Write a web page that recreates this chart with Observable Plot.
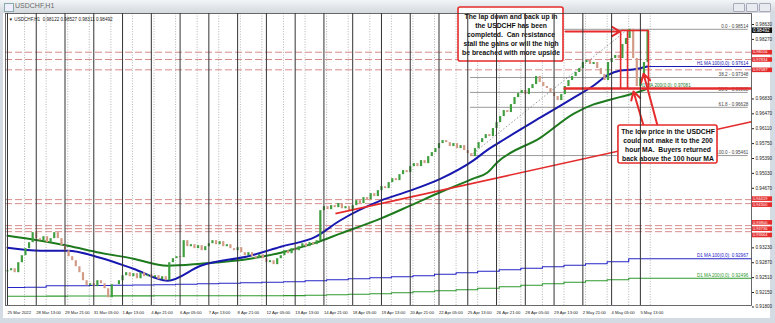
<!DOCTYPE html>
<html><head><meta charset="utf-8">
<script src="https://cdn.jsdelivr.net/npm/d3@7"></script>
<script src="https://cdn.jsdelivr.net/npm/@observablehq/plot@0.6"></script>
<style>
body{margin:0;background:#fff;}
#wrap{position:relative;width:775px;height:323px;background:#d5dbe2;overflow:hidden;font-family:"Liberation Sans",Arial,sans-serif;}
#titlebar{position:absolute;left:0;top:0;width:775px;height:13px;background:linear-gradient(#f3f5f7,#d3d9df);}
#title{position:absolute;left:15px;top:2px;font-size:7px;color:#6a6a6a;}
#icon{position:absolute;left:4px;top:3px;width:8px;height:7px;border:1px solid #8aa;background:#eef;}
.btn{position:absolute;top:3px;width:10px;height:7px;border:1px solid #aab;background:#e8ecf0;border-radius:1px;}
#panel{position:absolute;left:3px;top:13px;width:767px;height:305px;background:#fff;}
#chart{position:absolute;left:0;top:0;}
</style></head><body>
<div id="wrap">
<div id="titlebar"><div id="icon"></div><span id="title">USDCHF,H1</span>
<div class="btn" style="left:733px"></div><div class="btn" style="left:746px"></div><div class="btn" style="left:759px"></div></div>
<div id="panel"></div>
<div id="chart"></div>
</div>
<script>
// ---------- data ----------
const timeBars = [0,32,64,96,128,160,192,224,256,288,320,352,384,416,448,480,512,544,576,608,640,672,704];
const timeLabels = ["25 Mar 2022","28 Mar 13:00","29 Mar 21:00","31 Mar 05:00","1 Apr 13:00","4 Apr 21:00","6 Apr 05:00","7 Apr 13:00","8 Apr 21:00","12 Apr 05:00","13 Apr 13:00","14 Apr 21:00","18 Apr 05:00","19 Apr 13:00","20 Apr 21:00","22 Apr 05:00","25 Apr 13:00","26 Apr 21:00","28 Apr 05:00","29 Apr 13:00","2 May 21:00","4 May 05:00","5 May 13:00"];
const priceTicks = [0.98630,0.98270,0.96830,0.96470,0.96110,0.95750,0.95390,0.95030,0.94670,0.93230,0.92870,0.92510,0.92150,0.91800];

// price closes, one every 4 hourly bars
const firstOpen = 0.92650;
const closes = [
0.92677,0.92725,0.92629,0.92871,0.93040,0.93210,0.93355,0.93597,0.93452,0.93403,
0.93500,0.93355,0.93452,0.93597,0.93452,0.93282,0.93161,0.93016,0.92919,0.92774,
0.92629,0.92435,0.92314,0.92362,0.92290,0.92435,0.92362,0.92241,0.92023,0.92338,
0.92338,0.92435,0.92556,0.92629,0.92532,0.92605,0.92483,0.92629,0.92532,0.92580,
0.92508,0.92556,0.92459,0.92532,0.92435,0.92871,0.92968,0.93016,0.92992,0.93403,
0.93258,0.93306,0.93210,0.93282,0.93161,0.93258,0.93330,0.93403,0.93306,0.93379,
0.93258,0.93306,0.93210,0.93161,0.93234,0.93113,0.93040,0.93113,0.93016,0.92968,
0.93065,0.92968,0.92871,0.92919,0.92823,0.92968,0.93040,0.93161,0.93089,0.93210,
0.93161,0.93258,0.93330,0.93258,0.93355,0.93306,0.93403,0.94129,0.94226,0.94153,
0.94250,0.94202,0.94299,0.94175,0.94226,0.94129,0.94250,0.94371,0.94299,0.94444,
0.94396,0.94541,0.94469,0.94613,0.94710,0.94662,0.94807,0.94903,0.94855,0.95000,
0.95097,0.95049,0.95194,0.95266,0.95194,0.95339,0.95266,0.95436,0.95533,0.95630,
0.95751,0.95823,0.95775,0.95678,0.95751,0.95630,0.95702,0.95581,0.95508,0.95436,
0.95630,0.95775,0.95871,0.95968,0.95920,0.96114,0.96259,0.96404,0.96549,0.96501,
0.96694,0.96864,0.96960,0.97033,0.96936,0.97081,0.97178,0.97372,0.97227,0.97130,
0.97081,0.96985,0.96888,0.96791,0.96936,0.97130,0.97275,0.97372,0.97469,0.97565,
0.97711,0.97759,0.97662,0.97711,0.97565,0.97420,0.97275,0.97711,0.97807,0.97880,
0.97807,0.98146,0.98291,0.98514,0.97807,0.97130,0.97323,0.97711,0.98492];

// hourly moving averages (bar, value)
const maBars  = [0,37,67,103,140,178,215,270,304,343,370,415,448,482,518,534,545,593,630,652,667,682,696,712];
const ma100   = [0.93234,0.93161,0.93161,0.92992,0.92725,0.92435,0.92798,0.93040,0.93258,0.93500,0.93891,0.94371,0.94613,0.94903,0.95339,0.95600,0.95751,0.96382,0.96864,0.97154,0.97400,0.97518,0.97541,0.97614];
const ma200   = [0.93524,0.93403,0.93282,0.93113,0.92968,0.92798,0.92847,0.92968,0.93113,0.93355,0.93573,0.93936,0.94250,0.94580,0.94903,0.95050,0.95300,0.95896,0.96477,0.96700,0.96791,0.96880,0.96960,0.97081];

// daily moving averages, one value per trading day
const dayBars = [0,19,43,67,91,115,139,163,187,211,235,259,283,307,331,355,379,403,427,451,475,499,523,547,571,595,619,643,667,691];
const d1ma100 = [0.92273,0.92278,0.92314,0.92314,0.92321,0.92326,0.92333,0.92338,0.92350,0.92362,0.92374,0.92387,0.92399,0.92411,0.92435,0.92459,0.92483,0.92508,0.92532,0.92556,0.92592,0.92629,0.92665,0.92701,0.92738,0.92774,0.92810,0.92847,0.92895,0.92967];
const d1ma200 = [0.92060,0.92060,0.92062,0.92065,0.92065,0.92068,0.92068,0.92070,0.92070,0.92072,0.92072,0.92072,0.92072,0.92075,0.92084,0.92096,0.92108,0.92120,0.92145,0.92169,0.92193,0.92217,0.92254,0.92290,0.92326,0.92362,0.92399,0.92435,0.92459,0.92496];

// horizontal levels
const redLevels  = [0.97960,0.97784,0.97534,0.94396,0.94299,0.93767,0.93694,0.93621];
const redLabels  = ["0.98016","0.97834","0.97587","0.94419","0.94300","0.93800","0.93736","0.93664"];
const redTagNudgePx = [0,0,0,-1,1,-3.3,0,3.3];   // nudges (px, down +) so stacked tags stay readable
const lastPrice = 0.98492;
const lapLow = 0.97081;
const fibLevels = [0.98514,0.97348,0.96988,0.96628,0.95461];
const fibLabels = ["0.0 - 0.98514","38.2 - 0.97348","50.0 - 0.96988","61.8 - 0.96628","100.0 - 0.95461"];
const fibStartBar = 515, fibHighBar = 690;

// annotations (data units: bar, price)
const box1 = {x1:501.7,x2:618.5,y1:0.99041,y2:0.97735,
  text:"The lap down and back up in\nthe USDCHF has been\ncompleted.  Can resistance\nstall the gains or will the high\nbe breached with more upside"};
const box2 = {x1:679.6,x2:789.8,y1:0.96188,y2:0.95269,
  text:"The low price in the USDCHF\ncould not make it to the 200\nhour MA.  Buyers returned\nback above the 100 hour MA"};
const arrows = [
  {x1:620.7,y1:0.98461,x2:681.5,y2:0.98461},
  {x1:707.5,y1:0.96188,x2:696.3,y2:0.97010},
  {x1:723.0,y1:0.96188,x2:707.5,y2:0.97440}
];
const redSegs = [
  {x1:364.8,y1:0.94057,x2:827.6,y2:0.96280,w:1.6},
  {x1:682,y1:0.98485,x2:713,y2:0.98485,w:1.6},
  {x1:682,y1:0.98485,x2:682,y2:lapLow,w:1.6},
  {x1:689.7,y1:0.98485,x2:689.7,y2:lapLow,w:1.6},
  {x1:713,y1:0.98485,x2:713,y2:lapLow,w:1.6},
  {x1:618.5,y1:lapLow,x2:827.6,y2:lapLow,w:2.6}
];

// ---------- build ----------
const XMAX = 827.6;
const YDOM = [0.91836, 0.98896], PLOT_H = 323 - 13 - 18;
const pxToPrice = (YDOM[1] - YDOM[0]) / PLOT_H;
const candles = closes.map((c,i)=>({bar:4*i, open: i===0?firstOpen:closes[i-1], close:c}));
const ma100d = maBars.map((b,i)=>({bar:b,v:ma100[i]}));
const ma200d = maBars.map((b,i)=>({bar:b,v:ma200[i]}));
const d100 = dayBars.map((b,i)=>({bar:b,v:d1ma100[i]})).concat([{bar:XMAX,v:d1ma100[d1ma100.length-1]}]);
const d200 = dayBars.map((b,i)=>({bar:b,v:d1ma200[i]})).concat([{bar:XMAX,v:d1ma200[d1ma200.length-1]}]);
const gridBars = d3.range(19, 720, 24);
const FONT = "Liberation Sans, Arial, sans-serif";
const RED = "#e52b2b";
const tags = redLevels.map((v,i)=>({y: v - redTagNudgePx[i]*pxToPrice, label:redLabels[i]}));

const chart = Plot.plot({
  width: 775, height: 323,
  marginLeft: 5, marginRight: 24, marginTop: 13, marginBottom: 18,
  x: {domain: [-2.2, XMAX], axis: null},
  y: {domain: YDOM, axis: null},
  style: {background: "transparent", fontFamily: FONT, overflow: "visible"},
  marks: [
    Plot.ruleX(gridBars, {stroke:"#666", strokeDasharray:"1,1.6", strokeWidth:0.5}),
    Plot.ruleY(redLevels, {stroke:"#d98c8c", strokeDasharray:"7,3", strokeWidth:1}),
    // fib lines
    Plot.ruleY(fibLevels, {x1:fibStartBar, x2:824, stroke:"#9a9a9a", strokeWidth:1}),
    Plot.text(fibLevels, {x:824, y:d=>d, text:(d,i)=>fibLabels[i], textAnchor:"end", dy:-3, fontSize:4.6, fill:"#444"}),
    Plot.link([{a:fibStartBar,b:fibLevels[4],c:fibHighBar,d:fibLevels[0]}], {x1:"a",y1:"b",x2:"c",y2:"d", stroke:"#999", strokeDasharray:"1.5,2", strokeWidth:1}),
    // daily MAs
    Plot.line(d100, {x:"bar", y:"v", curve:"step-after", stroke:"#2424c8", strokeWidth:1.1}),
    Plot.line(d200, {x:"bar", y:"v", curve:"step-after", stroke:"#2e9a2e", strokeWidth:1.1}),
    Plot.text([d1ma100[d1ma100.length-1]], {x:824, y:d=>d, text:d=>"D1 MA 100(0,0): "+d.toFixed(5), textAnchor:"end", dy:-3, fontSize:4.6, fill:"#2424c8"}),
    Plot.text([d1ma200[d1ma200.length-1]], {x:824, y:d=>d, text:d=>"D1 MA 200(0,0): "+d.toFixed(5), textAnchor:"end", dy:-3, fontSize:4.6, fill:"#2e9a2e"}),
    // hourly MAs
    Plot.line(ma200d, {x:"bar", y:"v", curve:"monotone-x", stroke:"#1d7a1d", strokeWidth:2}),
    Plot.line(ma100d, {x:"bar", y:"v", curve:"monotone-x", stroke:"#1818b0", strokeWidth:2}),
    Plot.ruleY([ma100[ma100.length-1]], {x1:maBars[maBars.length-1], x2:XMAX, stroke:"#1818b0", strokeWidth:1}),
    Plot.text([ma100[ma100.length-1]], {x:824, y:d=>d, text:d=>"H1 MA 100(0,0): "+d.toFixed(5), textAnchor:"end", dy:-3, fontSize:4.6, fill:"#1818b0"}),
    Plot.text([ma200[ma200.length-1]], {x:760, y:d=>d, text:d=>"H1 MA 200(0,0): "+d.toFixed(5), textAnchor:"end", dy:-3, fontSize:4.6, fill:"#1d7a1d"}),
    // candles
    Plot.ruleX(candles, {x:"bar", y1:"open", y2:"close", stroke:d=>d.close>=d.open?"#3f9e3f":"#d39a86", strokeWidth:2.2}),
    // red annotation lines
    Plot.link(redSegs, {x1:"x1",y1:"y1",x2:"x2",y2:"y2", stroke:RED, strokeWidth:d=>d.w}),
    Plot.arrow(arrows, {x1:"x1",y1:"y1",x2:"x2",y2:"y2", stroke:RED, strokeWidth:2, headLength:7, bend:0}),
    // callout boxes
    Plot.rect([box1, box2], {x1:"x1",x2:"x2",y1:"y1",y2:"y2", fill:"white", stroke:RED, strokeWidth:1.6, rx:2}),
    Plot.text([box1, box2], {x:d=>(d.x1+d.x2)/2, y:d=>(d.y1+d.y2)/2, text:"text", fontSize:6.8, fontWeight:"bold", fill:"#111", lineHeight:1.33}),
    // frame
    Plot.frame({stroke:"#444", strokeWidth:0.8}),
    // right axis
    Plot.axisY({anchor:"right", ticks:priceTicks, tickFormat:d=>d.toFixed(5), tickSize:2, tickPadding:2, fontSize:4.6, color:"#222"}),
    Plot.ruleY(tags, {y:"y", x1:828.6, x2:851, stroke:RED, strokeWidth:4.6}),
    Plot.text(tags, {x:829.2, y:"y", text:"label", textAnchor:"start", fontSize:4, fill:"white"}),
    Plot.ruleY([lastPrice], {x1:828.6, x2:851, stroke:"#111", strokeWidth:5.5}),
    Plot.text([lastPrice], {x:829.2, y:d=>d, text:d=>d.toFixed(5), textAnchor:"start", fontSize:4.6, fill:"white"}),
    // time axis
    Plot.tickX(timeBars, {x:d=>d, y1:YDOM[0], y2:YDOM[0], stroke:"#333"}),
    Plot.text(timeBars, {x:d=>d, frameAnchor:"bottom", dy:8, dx:0, text:(d,i)=>timeLabels[i], textAnchor:"start", fontSize:4.2, fill:"#222"}),
    // inner header
    Plot.text(["\u25BC USDCHF,H1  0.98122 0.98527 0.98311 0.98492"], {frameAnchor:"top-left", dx:3, dy:4, fontSize:4.6, fill:"#222"})
  ]
});
document.getElementById("chart").appendChild(chart);
</script>
</body></html>
